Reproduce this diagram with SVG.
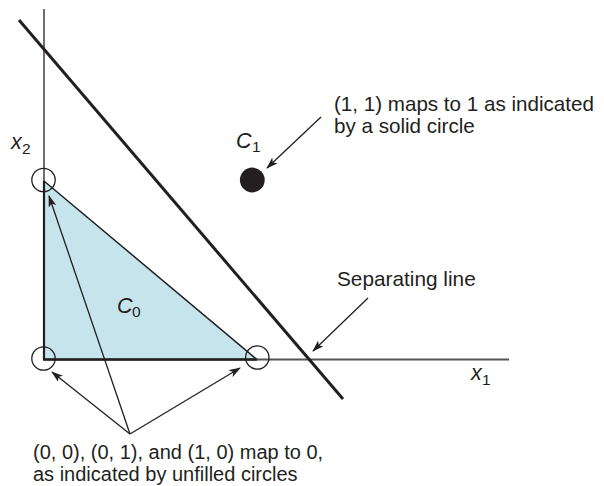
<svg xmlns="http://www.w3.org/2000/svg" width="604" height="486" viewBox="0 0 604 486">
<style>
text{font-family:"Liberation Sans",Arial,sans-serif;fill:#231f20}
.lbl{font-size:20px}
.it{font-size:21.5px;font-style:italic}
.sub{font-size:15.5px}
.arr{stroke:#231f20;stroke-width:1.3;fill:none;marker-end:url(#ah)}
</style>
<defs>
<marker id="ah" viewBox="0 0 12 8" refX="11" refY="4" markerWidth="12" markerHeight="8" markerUnits="userSpaceOnUse" orient="auto">
<path d="M0,0 L12,4 L0,8 L3,4 z" fill="#231f20"/>
</marker>
</defs>
<rect width="604" height="486" fill="#fff"/>
<g id="region-c0">
<polygon points="44,181 44,359.5 257,359.5" fill="#c6e4ec" stroke="none"/>
<line x1="44" y1="181" x2="257" y2="359.5" stroke="#231f20" stroke-width="1.5"/>
</g>
<g id="axes">
<line x1="44" y1="359.5" x2="509" y2="359.5" stroke="#555" stroke-width="1.8"/>
<line x1="44" y1="9" x2="44" y2="359.5" stroke="#231f20" stroke-width="1.3"/>
<line x1="44" y1="181" x2="44" y2="359.5" stroke="#231f20" stroke-width="2.2"/>
<line x1="43" y1="359.5" x2="257" y2="359.5" stroke="#231f20" stroke-width="2.3"/>
</g>
<g id="separating-line">
<line x1="19" y1="20" x2="343" y2="399" stroke="#231f20" stroke-width="3"/>
</g>
<g id="p00"><circle cx="43.5" cy="358.5" r="11.7" fill="none" stroke="#231f20" stroke-width="1.3"/></g>
<g id="p01"><circle cx="43.5" cy="180" r="11.7" fill="none" stroke="#231f20" stroke-width="1.3"/></g>
<g id="p10"><circle cx="257.3" cy="357.5" r="11.7" fill="none" stroke="#231f20" stroke-width="1.3"/></g>
<g id="p11"><circle cx="252.3" cy="180" r="12.4" fill="#231f20"/></g>
<g id="connectors">
<line class="arr" x1="321" y1="117" x2="267" y2="168"/>
<line class="arr" x1="368" y1="298" x2="313" y2="351"/>
<line class="arr" x1="130" y1="434" x2="52" y2="372"/>
<line class="arr" x1="130" y1="434" x2="240" y2="368"/>
<line class="arr" x1="130" y1="434" x2="49" y2="196"/>
</g>
<g id="labels">
<text class="it" x="11" y="149">x</text><text class="sub" x="22" y="154">2</text>
<text class="it" x="471" y="380">x</text><text class="sub" x="482" y="385">1</text>
<text class="it" x="236" y="148">C</text><text class="sub" x="252" y="152">1</text>
<text class="it" x="117" y="312.5">C</text><text class="sub" x="132" y="317">0</text>
<text class="lbl" x="334" y="111" style="font-size:20.6px">(1, 1) maps to 1 as indicated</text>
<text class="lbl" x="334" y="133" style="font-size:20.6px">by a solid circle</text>
<text class="lbl" x="337" y="286" style="font-size:20.8px">Separating line</text>
<text class="lbl" x="33" y="459">(0, 0), (0, 1), and (1, 0) map to 0,</text>
<text class="lbl" x="33" y="481">as indicated by unfilled circles</text>
</g>
</svg>
